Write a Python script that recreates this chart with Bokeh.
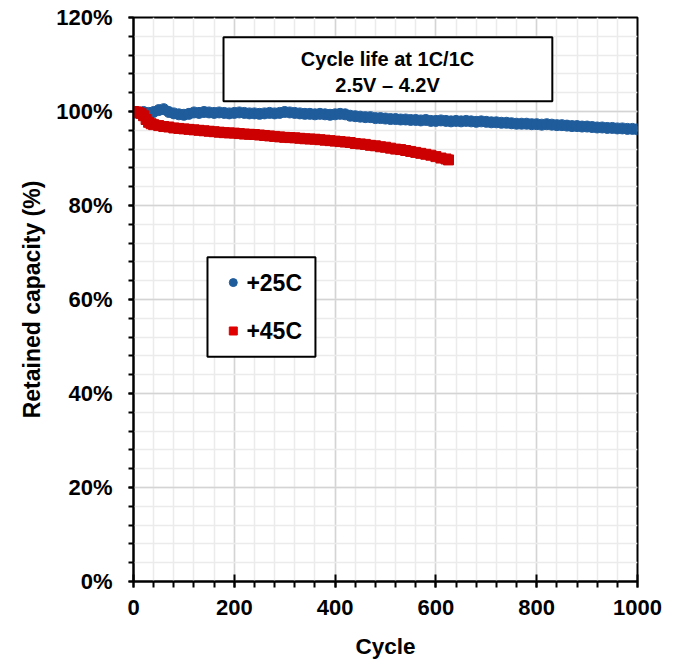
from bokeh.plotting import figure
from bokeh.models import (ColumnDataSource, FixedTicker, BoxAnnotation, Label, Range1d)
from bokeh.embed import file_html
from bokeh.resources import INLINE

# --- data -------------------------------------------------------------
cycles_25c = list(range(0, 1001, 10))
capacity_25c = [
    99.7, 99.8, 99.9, 99.7, 99.9, 100.3, 100.5, 99.9, 99.6, 99.4,
    99.3, 99.5, 99.8, 99.7, 99.9, 99.8, 99.7, 99.8, 99.7, 99.6,
    99.7, 99.8, 99.7, 99.6, 99.6, 99.5, 99.6, 99.7, 99.6, 99.7,
    99.9, 99.8, 99.7, 99.6, 99.5, 99.5, 99.4, 99.5, 99.4, 99.3,
    99.4, 99.5, 99.4, 99.1, 99.0, 98.9, 98.8, 98.8, 98.6, 98.6,
    98.5, 98.4, 98.4, 98.3, 98.3, 98.2, 98.2, 98.1, 98.2, 98.0,
    98.0, 98.1, 98.0, 97.9, 98.0, 97.9, 98.0, 97.9, 97.8, 97.9,
    97.8, 97.7, 97.7, 97.6, 97.6, 97.5, 97.4, 97.4, 97.4, 97.3,
    97.3, 97.2, 97.3, 97.2, 97.1, 97.1, 97.0, 96.9, 96.9, 96.8,
    96.8, 96.7, 96.6, 96.6, 96.5, 96.5, 96.4, 96.4, 96.3, 96.3,
    96.2,
]

cycles_45c = [0, 5, 10, 15, 20, 25, 30, 35] + list(range(40, 621, 10)) + [625]
capacity_45c = [
    100.0, 99.9, 99.8, 99.6, 99.1, 98.3, 97.7, 97.4,
    97.2, 97.0, 96.8, 96.7, 96.5, 96.4, 96.3, 96.2, 96.1, 96.0,
    95.9, 95.8, 95.7, 95.6, 95.5, 95.45, 95.4, 95.3, 95.2, 95.15,
    95.1, 95.0, 94.9, 94.8, 94.7, 94.6, 94.5, 94.45, 94.4, 94.3,
    94.2, 94.15, 94.1, 94.0, 93.9, 93.8, 93.7, 93.6, 93.5, 93.4,
    93.2, 93.1, 93.0, 92.8, 92.7, 92.5, 92.4, 92.2, 92.0, 91.9,
    91.7, 91.5, 91.3, 91.1, 90.9, 90.7, 90.4, 90.1, 89.9,
    89.7,
]

x_ticks = [0, 200, 400, 600, 800, 1000]
x_minor = list(range(0, 1001, 40))
y_ticks = [0, 20, 40, 60, 80, 100, 120]
y_minor = list(range(0, 121, 4))
y_tick_labels = ["0%", "20%", "40%", "60%", "80%", "100%", "120%"]

series_names = ["+25C", "+45C"]
title_lines = ["Cycle life at 1C/1C", "2.5V \u2013 4.2V"]

FONT = "Liberation Sans"
BLUE = "#1f5c9c"
RED = "#cc0000"

# --- figure -------------------------------------------------------------
p = figure(width=677, height=661, output_backend="svg", toolbar_location=None,
           x_range=Range1d(0, 1000), y_range=Range1d(0, 120),
           min_border_left=133, min_border_right=40,
           min_border_top=17, min_border_bottom=79)
p.background_fill_color = "white"
p.border_fill_color = "white"
p.outline_line_color = "black"
p.outline_line_width = 2

xt = FixedTicker(ticks=x_ticks, minor_ticks=x_minor)
yt = FixedTicker(ticks=y_ticks, minor_ticks=y_minor)
p.xaxis.ticker = xt
p.yaxis.ticker = yt
p.xgrid.ticker = xt
p.ygrid.ticker = yt

for g in (p.xgrid, p.ygrid):
    g.grid_line_color = "#d4d4d4"
    g.grid_line_width = 1.5
    g.minor_grid_line_color = "#ebebeb"
    g.minor_grid_line_width = 1.5

for ax in (p.xaxis, p.yaxis):
    ax.axis_line_color = "black"
    ax.axis_line_width = 2
    ax.major_tick_line_color = "black"
    ax.major_tick_line_width = 2
    ax.minor_tick_line_color = "black"
    ax.minor_tick_line_width = 2
    ax.major_label_text_font = FONT
    ax.major_label_text_font_style = "bold"
    ax.major_label_text_font_size = "22px"
    ax.major_label_text_color = "black"
    ax.axis_label_text_font = FONT
    ax.axis_label_text_font_style = "bold"
    ax.axis_label_text_color = "black"

p.xaxis.major_tick_in = 7
p.xaxis.major_tick_out = 6
p.xaxis.minor_tick_in = 0
p.xaxis.minor_tick_out = 6
p.xaxis.major_label_standoff = 12
p.xaxis.axis_label = "Cycle"
p.xaxis.axis_label_text_font_size = "22.5px"
p.xaxis.axis_label_standoff = 16

p.yaxis.major_tick_in = 0
p.yaxis.major_tick_out = 5
p.yaxis.minor_tick_in = 0
p.yaxis.minor_tick_out = 5
p.yaxis.major_label_standoff = 16
p.yaxis.major_label_overrides = {t: s for t, s in zip(y_ticks, y_tick_labels)}
p.yaxis.axis_label = "Retained capacity (%)"
p.yaxis.axis_label_text_font_size = "23px"
p.yaxis.axis_label_standoff = 8

# --- series -------------------------------------------------------------
src25 = ColumnDataSource(dict(x=cycles_25c, y=capacity_25c))
src45 = ColumnDataSource(dict(x=cycles_45c, y=capacity_45c))
p.scatter("x", "y", source=src25, marker="circle", size=11,
          fill_color=BLUE, line_color=BLUE)
p.scatter("x", "y", source=src45, marker="square", size=10,
          fill_color=RED, line_color=RED)

# --- title box ----------------------------------------------------------
p.add_layout(BoxAnnotation(left=178.6, right=831, bottom=102.2, top=115.8,
                           fill_color="white", fill_alpha=1,
                           line_color="black", line_alpha=1, line_width=2))
for yy, txt in zip([111.1, 105.6], title_lines):
    p.add_layout(Label(x=504, y=yy, text=txt, text_align="center",
                       text_baseline="middle", text_font=FONT,
                       text_font_style="bold", text_font_size="20px",
                       text_color="black"))

# --- legend box ---------------------------------------------------------
p.add_layout(BoxAnnotation(left=146.8, right=361, bottom=47.8, top=69.0,
                           fill_color="white", fill_alpha=1,
                           line_color="black", line_alpha=1, line_width=2))
leg_y = [63.6, 53.3]
p.scatter([198], [leg_y[0]], marker="circle", size=8,
          fill_color=BLUE, line_color=BLUE, level="overlay")
p.scatter([198], [leg_y[1]], marker="square", size=8,
          fill_color="#e00000", line_color="#e00000", level="overlay")
for yy, txt in zip(leg_y, series_names):
    p.add_layout(Label(x=224, y=yy, text=txt, text_align="left",
                       text_baseline="middle", text_font=FONT,
                       text_font_style="bold", text_font_size="23px",
                       text_color="black"))

open("out.html", "w").write(file_html(p, INLINE))
